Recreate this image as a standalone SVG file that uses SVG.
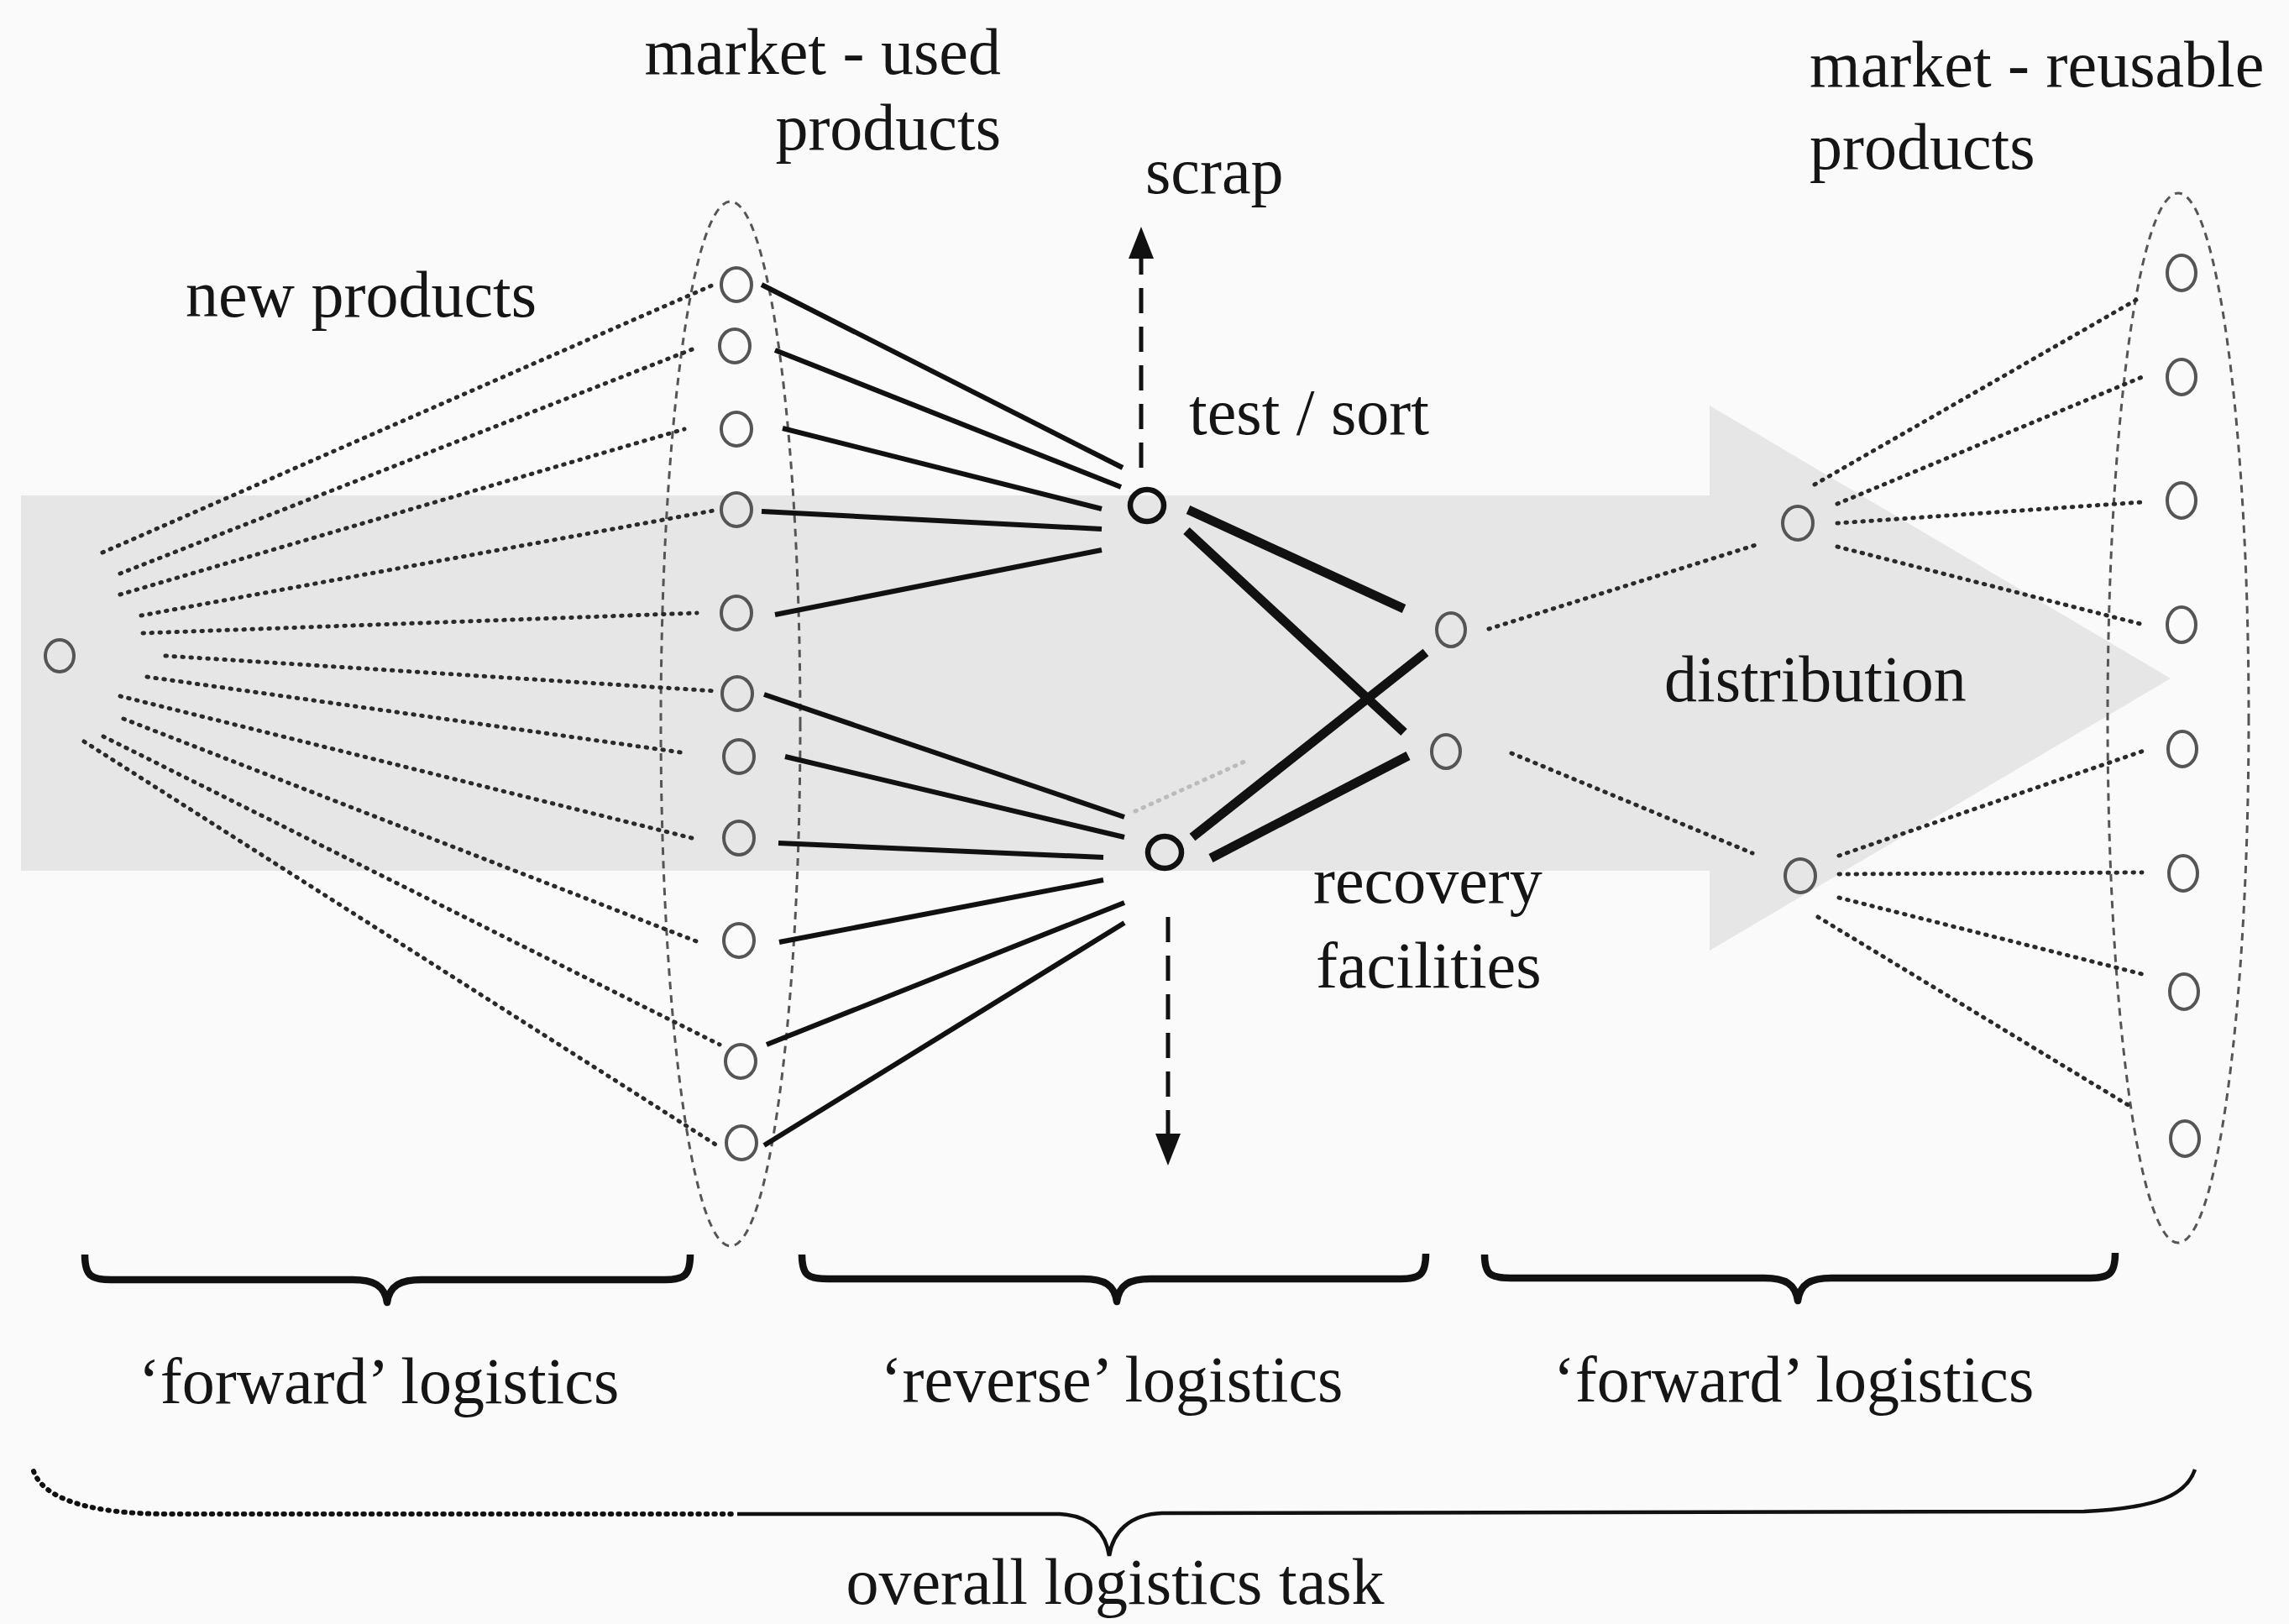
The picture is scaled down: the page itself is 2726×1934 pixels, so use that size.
<svg xmlns="http://www.w3.org/2000/svg" width="2726" height="1934" viewBox="0 0 2726 1934">
<defs>
<style>
.lbl{font-family:"Liberation Serif","Times New Roman",serif;font-size:78px;fill:#151515}
.dot{fill:none;stroke:#2a2a2a;stroke-width:5;stroke-dasharray:1.5 8.5;stroke-linecap:round}
.sol{fill:none;stroke:#111;stroke-width:6;stroke-linecap:butt}
.thk{fill:none;stroke:#111;stroke-width:11;stroke-linecap:butt}
.nd{fill:none;stroke:#555;stroke-width:4}
.ndk{fill:none;stroke:#111;stroke-width:6.5}
.mkt{fill:none;stroke:#555;stroke-width:3;stroke-dasharray:9 7}
.brace{fill:none;stroke:#111;stroke-width:8.5;stroke-linejoin:round}
.dash{fill:none;stroke:#111;stroke-width:5;stroke-dasharray:30 16}
</style>
<marker id="tri" markerUnits="userSpaceOnUse" viewBox="0 0 38 30" refX="0" refY="15" markerWidth="38" markerHeight="30" orient="auto">
<path d="M0,0 L38,15 L0,30 z" fill="#111"/>
</marker>
</defs>
<rect x="0" y="0" width="2726" height="1934" fill="#fafafa"/>
<polygon id="flow-arrow" points="25,590 2036,590 2036,483 2585,808 2036,1132 2036,1037 25,1037" fill="#e6e6e6"/>
<ellipse id="market-used" class="mkt" cx="870" cy="862" rx="83" ry="622"/>
<ellipse id="market-reusable" class="mkt" cx="2594" cy="855" rx="84" ry="625"/>
<g id="connectors">
<line class="dot" x1="122" y1="658" x2="850" y2="339"/>
<line class="dot" x1="143" y1="683" x2="827" y2="415"/>
<line class="dot" x1="143" y1="708" x2="815" y2="511"/>
<line class="dot" x1="168" y1="733" x2="850" y2="608"/>
<line class="dot" x1="170" y1="754" x2="830" y2="730"/>
<line class="dot" x1="197" y1="781" x2="853" y2="823"/>
<line class="dot" x1="175" y1="806" x2="818" y2="897"/>
<line class="dot" x1="143" y1="829" x2="832" y2="1000"/>
<line class="dot" x1="147" y1="856" x2="832" y2="1122"/>
<line class="dot" x1="123" y1="877" x2="857" y2="1244"/>
<line class="dot" x1="100" y1="883" x2="857" y2="1366"/>
<line class="sol" x1="907" y1="339" x2="1337" y2="557"/>
<line class="sol" x1="923" y1="417" x2="1335" y2="580"/>
<line class="sol" x1="932" y1="510" x2="1312" y2="606"/>
<line class="sol" x1="907" y1="609" x2="1312" y2="630"/>
<line class="sol" x1="923" y1="732" x2="1312" y2="655"/>
<line class="sol" x1="910" y1="827" x2="1339" y2="973"/>
<line class="sol" x1="935" y1="901" x2="1339" y2="997"/>
<line class="sol" x1="927" y1="1004" x2="1314" y2="1021"/>
<line class="sol" x1="928" y1="1122" x2="1314" y2="1048"/>
<line class="sol" x1="913" y1="1244" x2="1339" y2="1075"/>
<line class="sol" x1="910" y1="1364" x2="1339" y2="1099"/>
<line class="thk" x1="1415" y1="607" x2="1672" y2="725"/>
<line class="thk" x1="1413" y1="632" x2="1672" y2="872"/>
<line class="thk" x1="1420" y1="997" x2="1698" y2="777"/>
<line class="thk" x1="1442" y1="1022" x2="1677" y2="900"/>
<line class="dot" x1="1352" y1="966" x2="1482" y2="907" style="stroke:#bbb"/>
<line class="dot" x1="1773" y1="749" x2="2091" y2="649"/>
<line class="dot" x1="1800" y1="897" x2="2087" y2="1016"/>
<line class="dot" x1="2161" y1="577" x2="2546" y2="356"/>
<line class="dot" x1="2188" y1="600" x2="2551" y2="449"/>
<line class="dot" x1="2188" y1="623" x2="2551" y2="598"/>
<line class="dot" x1="2188" y1="651" x2="2549" y2="743"/>
<line class="dot" x1="2190" y1="1019" x2="2556" y2="893"/>
<line class="dot" x1="2190" y1="1041" x2="2551" y2="1039"/>
<line class="dot" x1="2190" y1="1069" x2="2551" y2="1160"/>
<line class="dot" x1="2165" y1="1092" x2="2541" y2="1320"/>
<line id="to-scrap" class="dash" x1="1359" y1="557" x2="1359" y2="308" marker-end="url(#tri)"/>
<line id="to-disposal" class="dash" x1="1391" y1="1092" x2="1391" y2="1350" marker-end="url(#tri)"/>
</g>
<g id="node-source"><ellipse class="nd" cx="71" cy="781" rx="17" ry="19"/></g>
<g id="nodes-used">
<ellipse class="nd" cx="877" cy="339" rx="18" ry="20"/>
<ellipse class="nd" cx="875" cy="412" rx="18" ry="20"/>
<ellipse class="nd" cx="877" cy="511" rx="18" ry="20"/>
<ellipse class="nd" cx="877" cy="607" rx="18" ry="20"/>
<ellipse class="nd" cx="877" cy="730" rx="18" ry="20"/>
<ellipse class="nd" cx="878" cy="826" rx="18" ry="20"/>
<ellipse class="nd" cx="880" cy="901" rx="18" ry="20"/>
<ellipse class="nd" cx="880" cy="998" rx="18" ry="20"/>
<ellipse class="nd" cx="880" cy="1120" rx="18" ry="20"/>
<ellipse class="nd" cx="882" cy="1264" rx="18" ry="20"/>
<ellipse class="nd" cx="883" cy="1361" rx="18" ry="20"/>
</g>
<g id="node-test-sort"><ellipse class="ndk" cx="1366" cy="602" rx="20" ry="19"/></g>
<g id="node-sort-2"><ellipse class="ndk" cx="1387" cy="1015" rx="20" ry="19"/></g>
<g id="node-recovery-1"><ellipse class="nd" cx="1728" cy="750" rx="17" ry="20"/></g>
<g id="node-recovery-2"><ellipse class="nd" cx="1722" cy="895" rx="17" ry="20"/></g>
<g id="node-distribution-1"><ellipse class="nd" cx="2141" cy="623" rx="18" ry="20"/></g>
<g id="node-distribution-2"><ellipse class="nd" cx="2144" cy="1043" rx="18" ry="20"/></g>
<g id="nodes-reusable">
<ellipse class="nd" cx="2598" cy="325" rx="17" ry="21"/>
<ellipse class="nd" cx="2598" cy="449" rx="17" ry="21"/>
<ellipse class="nd" cx="2598" cy="596" rx="17" ry="21"/>
<ellipse class="nd" cx="2598" cy="744" rx="17" ry="21"/>
<ellipse class="nd" cx="2599" cy="892" rx="17" ry="21"/>
<ellipse class="nd" cx="2600" cy="1040" rx="17" ry="21"/>
<ellipse class="nd" cx="2601" cy="1181" rx="17" ry="21"/>
<ellipse class="nd" cx="2602" cy="1356" rx="17" ry="21"/>
</g>
<g id="braces">
<path class="brace" d="M101,1494 C101,1519 108,1524 132,1524 L420,1524 C445,1524 458,1531 461,1551 C464,1531 477,1524 502,1524 L792,1524 C815,1524 822,1519 822,1494"/>
<path class="brace" d="M955,1494 C955,1519 962,1523 986,1523 L1290,1523 C1315,1523 1327,1530 1330,1550 C1333,1530 1345,1523 1370,1523 L1668,1523 C1691,1523 1698,1518 1698,1493"/>
<path class="brace" d="M1768,1494 C1768,1518 1775,1522 1799,1522 L2101,1522 C2126,1522 2138,1529 2141,1549 C2144,1529 2156,1522 2181,1522 L2489,1522 C2512,1522 2519,1517 2519,1492"/>
<path d="M40,1752 C52,1786 110,1803 200,1803 L878,1803" fill="none" stroke="#111" stroke-width="6" stroke-dasharray="1.5 8" stroke-linecap="round"/>
<path d="M878,1803 L1262,1803 C1300,1805 1317,1826 1321,1853 C1325,1826 1344,1803 1384,1802 L2482,1800 C2570,1796 2604,1780 2614,1750" fill="none" stroke="#111" stroke-width="4.5"/>
</g>
<g id="labels">
<text class="lbl" x="1192" y="88" text-anchor="end">market - used</text>
<text class="lbl" x="1192" y="178" text-anchor="end">products</text>
<text class="lbl" x="221" y="377">new products</text>
<text class="lbl" x="1364" y="230">scrap</text>
<text class="lbl" x="1416" y="517">test / sort</text>
<text class="lbl" x="2155" y="103">market - reusable</text>
<text class="lbl" x="2155" y="201">products</text>
<text class="lbl" x="1982" y="835">distribution</text>
<text class="lbl" x="1564" y="1075">recovery</text>
<text class="lbl" x="1567" y="1176">facilities</text>
<text class="lbl" x="451" y="1671" text-anchor="middle">‘forward’ logistics</text>
<text class="lbl" x="1324" y="1669" text-anchor="middle">‘reverse’ logistics</text>
<text class="lbl" x="2136" y="1669" text-anchor="middle">‘forward’ logistics</text>
<text class="lbl" x="1328" y="1910" text-anchor="middle">overall logistics task</text>
</g>
</svg>
